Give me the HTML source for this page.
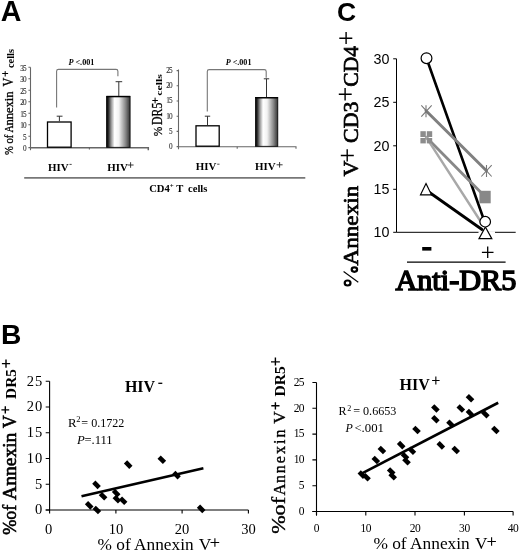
<!DOCTYPE html>
<html><head><meta charset="utf-8">
<style>
html,body{margin:0;padding:0;background:#fff;}
svg{display:block;filter:grayscale(1);}
.s{font-family:"Liberation Serif",serif;}
.ss{font-family:"Liberation Sans",sans-serif;}
</style></head>
<body>
<svg width="520" height="554" viewBox="0 0 520 554">
<defs>
<linearGradient id="bg" x1="0" x2="1" y1="0" y2="0">
<stop offset="0" stop-color="#000"/>
<stop offset="0.07" stop-color="#222"/>
<stop offset="0.2" stop-color="#999"/>
<stop offset="0.34" stop-color="#fff"/>
<stop offset="0.52" stop-color="#f2f2f2"/>
<stop offset="0.8" stop-color="#8a8a8a"/>
<stop offset="1" stop-color="#333"/>
</linearGradient>
</defs>
<rect width="520" height="554" fill="#fff"/>

<!-- ============ PANEL A ============ -->
<text class="ss" x="0.8" y="20.9" font-size="28.6" font-weight="bold">A</text>

<!-- A1 axes -->
<g stroke="#666" stroke-width="1.1" fill="none">
<path d="M30.5 67.3 V150.2"/>
<path d="M30.5 147.8 H148.3 V150.2" stroke-width="1.5"/>
<path d="M28.4 67.3H30.5 M28.4 78.8H30.5 M28.4 90.3H30.5 M28.4 101.8H30.5 M28.4 113.2H30.5 M28.4 124.7H30.5 M28.4 136.2H30.5 M28.4 147.6H30.5"/>
<path d="M89.4 147.6 V149.6"/>
</g>
<g class="s" font-size="7.2" fill="#333" stroke="#333" stroke-width="0.12" text-anchor="end" letter-spacing="-0.7">
<text x="26" y="70.7">35</text><text x="26" y="82.2">30</text><text x="26" y="93.7">25</text>
<text x="26" y="105.2">20</text><text x="26" y="116.6">15</text><text x="26" y="128.1">10</text>
<text x="26" y="139.6">5</text><text x="26" y="151.0">0</text>
</g>
<!-- A1 bars -->
<rect x="47.5" y="122" width="23.6" height="25.2" fill="#fff" stroke="#000" stroke-width="1.3"/>
<rect x="106.6" y="96.3" width="23.5" height="51" fill="url(#bg)" stroke="#000" stroke-width="0.8"/>
<line x1="106.6" y1="96.6" x2="130.1" y2="96.6" stroke="#000" stroke-width="1.4"/>
<g stroke="#333" stroke-width="1" fill="none">
<path d="M59.4 121.3 V116.2 M56.7 116.2 H62.5"/>
<path d="M118.8 96 V81.7 M115.6 81.7 H122.2"/>
</g>
<path d="M56.6 107.5 V71.3 Q56.6 69.4 58.5 69.4 H116 Q117.9 69.4 117.9 71.3 V76.2" stroke="#777" stroke-width="1.1" fill="none"/>
<text class="s" x="68.4" y="64.9" font-size="8.8" font-weight="bold" textLength="26" lengthAdjust="spacingAndGlyphs"><tspan font-style="italic">P</tspan> &lt;.001</text>

<!-- A1 y label -->
<g transform="translate(13.1,155) rotate(-90)" class="s" stroke="#000" stroke-width="0.3">
<text x="0" y="0" font-size="13" textLength="20.3" lengthAdjust="spacingAndGlyphs">% of</text>
<text x="22.5" y="0" font-size="13.5" textLength="7.3" lengthAdjust="spacingAndGlyphs">A</text>
<text x="29.4" y="0" font-size="12.6" textLength="34.2" lengthAdjust="spacingAndGlyphs">nnexin</text>
<text x="68.4" y="0" font-size="13.9" textLength="8.8" lengthAdjust="spacingAndGlyphs">V</text>
<text x="87" y="0.4" font-size="10" font-weight="bold" stroke="none" textLength="19" lengthAdjust="spacingAndGlyphs">cells</text>
</g>
<path d="M2.2 73.5H8.1 M5.2 71.1V76.5" stroke="#000" stroke-width="1"/>

<!-- A1 x labels -->
<g class="s" font-size="10.9" font-weight="bold">
<text x="48" y="170.5">HIV</text>
<text x="107.2" y="170.5">HIV</text>
<text x="195.7" y="170.3">HIV</text>
<text x="255" y="170.3">HIV</text>
</g>
<g stroke="#333" stroke-width="0.9">
<path d="M69.5 164.4 H71.7 M217.2 164.2 H219.5"/>
</g>
<path d="M127.6 165H133.6 M130.6 162.2V167.8 M276.6 164.8H282.6 M279.6 162V167.6" stroke="#222" stroke-width="0.9"/>

<!-- A2 axes -->
<g stroke="#666" stroke-width="1.1" fill="none">
<path d="M178.5 69.5 V149.2 M178.5 146.7 H296 V148.8"/>
<path d="M176.6 70.6H178.5 M176.6 85.8H178.5 M176.6 101H178.5 M176.6 116.2H178.5 M176.6 131.4H178.5 M176.6 146.6H178.5"/>
<path d="M237.2 146.7 V148.7"/>
</g>
<g class="s" font-size="7.2" fill="#333" stroke="#333" stroke-width="0.12" text-anchor="end" letter-spacing="-0.7">
<text x="172" y="72.9">25</text><text x="172" y="88.1">20</text><text x="172" y="103.3">15</text>
<text x="172" y="118.5">10</text><text x="172" y="133.7">5</text><text x="172" y="148.9">0</text>
</g>
<rect x="196" y="125.8" width="23.2" height="20.4" fill="#fff" stroke="#000" stroke-width="1.3"/>
<rect x="255.5" y="97.5" width="22.3" height="48.8" fill="url(#bg)" stroke="#000" stroke-width="0.8"/>
<line x1="255.5" y1="97.8" x2="277.8" y2="97.8" stroke="#000" stroke-width="1.4"/>
<g stroke="#333" stroke-width="1" fill="none">
<path d="M207.5 125.2 V116.2 M204.8 116.2 H210.2"/>
<path d="M266.5 97 V78.8 M263.8 78.8 H269.2"/>
</g>
<path d="M207.3 111.5 V71.5 Q207.3 69.6 209.2 69.6 H264.3 Q266.2 69.6 266.2 71.5 V77.7" stroke="#777" stroke-width="1.1" fill="none"/>
<text class="s" x="225.7" y="64.8" font-size="8.8" font-weight="bold" textLength="25.8" lengthAdjust="spacingAndGlyphs"><tspan font-style="italic">P</tspan> &lt;.001</text>

<!-- A2 y label -->
<g transform="translate(162,136.3) rotate(-90)" class="s">
<text x="0" y="0" font-size="13.5" stroke="#000" stroke-width="0.3" textLength="9.6" lengthAdjust="spacingAndGlyphs">%</text>
<text x="11.4" y="0" font-size="14.5" stroke="#000" stroke-width="0.3" textLength="22.2" lengthAdjust="spacingAndGlyphs">DR5</text>
<text x="40.5" y="0" font-size="9" font-weight="bold" textLength="21.8" lengthAdjust="spacingAndGlyphs">cells</text>
</g>
<path d="M152.3 100.5H157.9 M155.1 97.6V103.4" stroke="#000" stroke-width="1"/>

<!-- CD4 line + label -->
<line x1="24.2" y1="177.8" x2="305.3" y2="177.8" stroke="#777" stroke-width="1.7"/>
<text class="s" x="149.2" y="191.5" font-size="10.6" font-weight="bold">CD4<tspan font-size="7" dy="-4">+</tspan><tspan dy="4"> T</tspan><tspan x="188">cells</tspan></text>

<!-- ============ PANEL C ============ -->
<text class="ss" x="337" y="20.5" font-size="26.5" font-weight="bold">C</text>
<g stroke="#000" stroke-width="1" fill="none">
<path d="M396.5 58.8 V232.3 H515.7"/>
<path d="M393.2 58.8H396.5 M393.2 102.3H396.5 M393.2 145.8H396.5 M393.2 189.3H396.5 M393.2 232.3H396.5"/>
</g>
<g class="ss" font-size="14.3" fill="#000" text-anchor="end">
<text x="389.5" y="63.9">30</text><text x="389.5" y="107.4">25</text><text x="389.5" y="150.9">20</text>
<text x="389.5" y="194.4">15</text><text x="389.5" y="237.4">10</text>
</g>
<!-- lines -->
<line x1="478.5" y1="232.3" x2="495" y2="232.3" stroke="#fff" stroke-width="2"/>
<g fill="none" stroke-linecap="round">
<path d="M426.5 58.2 L484.6 221.7" stroke="#000" stroke-width="2.6"/>
<path d="M426 110.8 L486.5 170.8" stroke="#808080" stroke-width="3"/>
<path d="M426.3 137.3 L485.2 196.7" stroke="#888" stroke-width="2.8"/>
<path d="M426.3 137.3 L481 222" stroke="#a8a8a8" stroke-width="2.4"/>
<path d="M426 190 L482 229.5" stroke="#000" stroke-width="2.8"/>
</g>
<!-- markers -->
<circle cx="426.5" cy="58.2" r="5.4" fill="#fff" stroke="#000" stroke-width="1.2"/>
<g stroke="#777" stroke-width="1.1">
<path d="M421.3 105.4 L431.7 116.7 M431.7 105.4 L421.3 116.7 M426 105.2 V117.2"/>
<path d="M481.3 165.2 L491.7 176.5 M491.7 165.2 L481.3 176.5 M486.5 165 V177"/>
</g>
<g fill="#8c8c8c">
<rect x="420.4" y="131.2" width="5.4" height="5.8"/><rect x="426.8" y="131.2" width="5.4" height="5.8"/>
<rect x="420.4" y="138" width="5.4" height="5.4"/><rect x="426.8" y="138" width="5.4" height="5.4"/>
</g>
<rect x="479.4" y="190.8" width="11.3" height="12.5" fill="#888"/>
<path d="M426 183.5 L431.5 194.8 L420.5 194.8 Z" fill="#fff" stroke="#000" stroke-width="1.2"/>
<path d="M485.4 227 L491.8 238.6 L479 238.6 Z" fill="#fff" stroke="#000" stroke-width="1.2"/>
<circle cx="485.2" cy="221.7" r="5.3" fill="#fff" stroke="#000" stroke-width="1.2"/>
<!-- x labels -->
<rect x="422.2" y="247" width="9.2" height="3.6" fill="#000"/>
<path d="M481.9 252.3H493.5 M487.7 246.5V258" stroke="#000" stroke-width="1.3"/>
<line x1="407" y1="262.2" x2="505.6" y2="262.2" stroke="#000" stroke-width="1.3"/>
<text class="s" x="395.4" y="290" font-size="29.8" stroke="#000" stroke-width="1.5" textLength="121" lengthAdjust="spacingAndGlyphs">Anti-DR5</text>
<!-- C y label -->
<g transform="translate(358.4,287) rotate(-90)" class="s" font-size="22" stroke="#000" stroke-width="0.7">
<text x="21.4" y="0" textLength="79.9" lengthAdjust="spacingAndGlyphs">Annexin</text>
<text x="110.45" y="0">V</text>
<text x="144.1" y="0" textLength="41.3" lengthAdjust="spacingAndGlyphs">CD3</text>
<text x="200.3" y="0" textLength="40.75" lengthAdjust="spacingAndGlyphs">CD4</text>
</g>
<g stroke="#000" stroke-width="2.2" fill="none">
<ellipse cx="347.6" cy="283" rx="2.9" ry="2.5"/>
<ellipse cx="354.4" cy="269.6" rx="2.7" ry="2.2"/>
<path d="M358.3 282.2 L343.6 271.5" stroke-width="1.1"/>
</g>
<g stroke="#000" stroke-width="1.4" fill="none">
<path d="M340.8 155.5H353.8 M347.2 149.2V161.6"/>
<path d="M338.8 94.3H351.7 M345.1 88.1V100.5"/>
<path d="M339.3 38.2H352.3 M346.1 31.9V44"/>
</g>

<!-- ============ PANEL B ============ -->
<text class="ss" x="1" y="344.4" font-size="28.2" font-weight="bold">B</text>

<!-- B1 axes -->
<g stroke="#000" stroke-width="1.1" fill="none">
<path d="M49.6 381.3 V513.6 M45.7 510 H248.4"/>
<path d="M45.7 510.00H49.6 M45.7 484.26H49.6 M45.7 458.52H49.6 M45.7 432.78H49.6 M45.7 407.04H49.6 M45.7 381.30H49.6 "/>
<path d="M115.9 510V513.6 M182.1 510V513.6 M248.4 510V513.6 "/>
</g>
<g class="s" font-size="14.5" fill="#000" text-anchor="end" letter-spacing="1">
<text x="43.3" y="514.30">0</text><text x="43.3" y="488.56">5</text><text x="43.3" y="462.82">10</text><text x="43.3" y="437.08">15</text><text x="43.3" y="411.34">20</text><text x="43.3" y="385.60">25</text>
</g>
<g class="s" font-size="14.5" fill="#000" text-anchor="middle">
<text x="48.5" y="533.6">0</text><text x="115.9" y="533.6">10</text><text x="182.1" y="533.6">20</text><text x="248.4" y="533.6">30</text>
</g>
<text class="s" x="97.5" y="550.4" font-size="17.4" textLength="96.1" lengthAdjust="spacingAndGlyphs">% of Annexin</text>
<text class="s" x="198.8" y="550.4" font-size="17.4">V</text>
<path d="M210.5 542.5H219.2 M214.9 538.2V546.8" stroke="#000" stroke-width="1.1"/>
<!-- B1 y label -->
<g transform="translate(16,540) rotate(-90)" class="s" font-size="18" stroke="#000" stroke-width="0.6">
<text x="5.15" y="0">%of</text>
<text x="40.1" y="0" textLength="67.3" lengthAdjust="spacingAndGlyphs">Annexin</text>
<text x="111.7" y="0">V</text>
<text x="141.1" y="0.3" font-size="15.3" font-weight="bold" stroke="none">DR5</text>
</g>
<g stroke="#000" stroke-width="1.4">
<path d="M1.4 409.9H9.2 M5.3 406.3V413.5"/>
<path d="M1.9 363.6H10.1 M6 359.5V367.7"/>
</g>
<text class="s" x="124.9" y="391.9" font-size="16" font-weight="bold">HIV</text>
<line x1="158.3" y1="383.3" x2="162.3" y2="383.3" stroke="#000" stroke-width="1.3"/>
<g class="s" font-size="12.8">
<text x="68.1" y="426.9">R</text>
<text x="76.3" y="421.9" font-size="8.5">2</text>
<text x="81.3" y="426.9" textLength="43.1" lengthAdjust="spacingAndGlyphs">= 0.1722</text>
<text x="77" y="443.5" font-style="italic">P</text>
<text x="84.4" y="443.5" textLength="28.25" lengthAdjust="spacingAndGlyphs">=.111</text>
</g>
<!-- B1 data -->
<line x1="81.5" y1="496.2" x2="203.4" y2="468.2" stroke="#000" stroke-width="2.6"/>
<g fill="#000">
<g transform="translate(128.2,464.6) rotate(45)"><rect x="-3.8" y="-2.3" width="7.6" height="4.6"/></g>
<g transform="translate(96.5,484.9) rotate(45)"><rect x="-3.8" y="-2.3" width="7.6" height="4.6"/></g>
<g transform="translate(103.1,496.2) rotate(45)"><rect x="-3.8" y="-2.3" width="7.6" height="4.6"/></g>
<g transform="translate(89.2,505.4) rotate(45)"><rect x="-3.8" y="-2.3" width="7.6" height="4.6"/></g>
<g transform="translate(96.9,510) rotate(45)"><rect x="-3.8" y="-2.3" width="7.6" height="4.6"/></g>
<g transform="translate(116.2,493.1) rotate(45)"><rect x="-3.8" y="-2.3" width="7.6" height="4.6"/></g>
<g transform="translate(116.9,499.2) rotate(45)"><rect x="-3.8" y="-2.3" width="7.6" height="4.6"/></g>
<g transform="translate(123.1,500.8) rotate(45)"><rect x="-3.8" y="-2.3" width="7.6" height="4.6"/></g>
<g transform="translate(161.8,459.7) rotate(45)"><rect x="-3.8" y="-2.3" width="7.6" height="4.6"/></g>
<g transform="translate(176.5,475.1) rotate(45)"><rect x="-3.8" y="-2.3" width="7.6" height="4.6"/></g>
<g transform="translate(201.2,508.9) rotate(45)"><rect x="-3.8" y="-2.3" width="7.6" height="4.6"/></g>
</g>

<!-- B2 axes -->
<g stroke="#000" stroke-width="1.1" fill="none">
<path d="M316.5 382.5 V515.4 M312.4 511.5 H513.1"/>
<path d="M312.4 511.50H316.5 M312.4 485.70H316.5 M312.4 459.90H316.5 M312.4 434.10H316.5 M312.4 408.30H316.5 M312.4 382.50H316.5 "/>
<path d="M316.5 511.5V515.4 M365.8 511.5V515.4 M415 511.5V515.4 M464.4 511.5V515.4 M513.1 511.5V515.4 "/>
</g>
<g class="s" font-size="11.5" fill="#000" text-anchor="end" letter-spacing="-0.6">
<text x="304" y="514.80">0</text><text x="304" y="489.00">5</text><text x="304" y="463.20">10</text><text x="304" y="437.40">15</text><text x="304" y="411.60">20</text><text x="304" y="385.80">25</text>
</g>
<g class="s" font-size="11.5" fill="#000" text-anchor="middle" letter-spacing="-0.4">
<text x="316.5" y="532.4">0</text><text x="365.8" y="532.4">10</text><text x="415.0" y="532.4">20</text><text x="464.4" y="532.4">30</text><text x="513.1" y="532.4">40</text>
</g>
<text class="s" x="373.4" y="549.3" font-size="17.2" textLength="96.4" lengthAdjust="spacingAndGlyphs">% of Annexin</text>
<text class="s" x="475.1" y="549.3" font-size="17.2">V</text>
<path d="M487.4 541.5H495.9 M491.6 537.3V545.7" stroke="#000" stroke-width="1.1"/>
<!-- B2 y label -->
<g transform="translate(284.8,540) rotate(-90)" class="s" font-size="18" stroke="#000" stroke-width="0.35">
<text x="6.15" y="0" textLength="36.9" lengthAdjust="spacingAndGlyphs">%of</text>
<text x="44.6" y="0" font-size="17" textLength="12" lengthAdjust="spacingAndGlyphs">A</text>
<text x="56.9" y="0" font-size="16" textLength="53.5" lengthAdjust="spacing">nnexin</text>
<text x="116.3" y="0" font-size="17.4">V</text>
<text x="143.5" y="0.2" font-size="15.5" font-weight="bold" stroke="none">DR5</text>
</g>
<g stroke="#000" stroke-width="1.4">
<path d="M271.3 405.8H279.5 M275.4 402.2V409.5"/>
<path d="M271 361.9H279.9 M275.4 357.4V365.4"/>
</g>
<text class="s" x="399.5" y="389.8" font-size="16" font-weight="bold">HIV</text>
<path d="M432.1 380.5H439.6 M435.85 376.5V384.6" stroke="#000" stroke-width="1.1"/>
<g class="s" font-size="12">
<text x="338.4" y="414.75">R</text>
<text x="347.3" y="410.6" font-size="8">2</text>
<text x="353.15" y="414.75" textLength="43.3" lengthAdjust="spacingAndGlyphs">= 0.6653</text>
<text x="345.6" y="432.25" font-style="italic">P</text>
<text x="354.4" y="432.25" textLength="29.6" lengthAdjust="spacingAndGlyphs">&lt;.001</text>
</g>
<!-- B2 data -->
<line x1="359.6" y1="474.6" x2="498.2" y2="402.8" stroke="#000" stroke-width="2.7"/>
<g fill="#000">
<g transform="translate(416.5,430) rotate(45)"><rect x="-3.8" y="-2.3" width="7.6" height="4.6"/></g>
<g transform="translate(401.2,445.1) rotate(45)"><rect x="-3.8" y="-2.3" width="7.6" height="4.6"/></g>
<g transform="translate(381.9,450) rotate(45)"><rect x="-3.8" y="-2.3" width="7.6" height="4.6"/></g>
<g transform="translate(411.9,450.8) rotate(45)"><rect x="-3.8" y="-2.3" width="7.6" height="4.6"/></g>
<g transform="translate(375.8,460) rotate(45)"><rect x="-3.8" y="-2.3" width="7.6" height="4.6"/></g>
<g transform="translate(405,456.2) rotate(45)"><rect x="-3.8" y="-2.3" width="7.6" height="4.6"/></g>
<g transform="translate(406.5,461.2) rotate(45)"><rect x="-3.8" y="-2.3" width="7.6" height="4.6"/></g>
<g transform="translate(361.9,474.6) rotate(45)"><rect x="-3.8" y="-2.3" width="7.6" height="4.6"/></g>
<g transform="translate(366.5,477.2) rotate(45)"><rect x="-3.8" y="-2.3" width="7.6" height="4.6"/></g>
<g transform="translate(391.2,471.5) rotate(45)"><rect x="-3.8" y="-2.3" width="7.6" height="4.6"/></g>
<g transform="translate(392.7,476.2) rotate(45)"><rect x="-3.8" y="-2.3" width="7.6" height="4.6"/></g>
<g transform="translate(470,398.2) rotate(45)"><rect x="-3.8" y="-2.3" width="7.6" height="4.6"/></g>
<g transform="translate(435.4,408.5) rotate(45)"><rect x="-3.8" y="-2.3" width="7.6" height="4.6"/></g>
<g transform="translate(460.8,408.5) rotate(45)"><rect x="-3.8" y="-2.3" width="7.6" height="4.6"/></g>
<g transform="translate(470,413.1) rotate(45)"><rect x="-3.8" y="-2.3" width="7.6" height="4.6"/></g>
<g transform="translate(485.4,414.2) rotate(45)"><rect x="-3.8" y="-2.3" width="7.6" height="4.6"/></g>
<g transform="translate(435.4,419.2) rotate(45)"><rect x="-3.8" y="-2.3" width="7.6" height="4.6"/></g>
<g transform="translate(450.5,423.8) rotate(45)"><rect x="-3.8" y="-2.3" width="7.6" height="4.6"/></g>
<g transform="translate(495.4,430) rotate(45)"><rect x="-3.8" y="-2.3" width="7.6" height="4.6"/></g>
<g transform="translate(440.8,445.4) rotate(45)"><rect x="-3.8" y="-2.3" width="7.6" height="4.6"/></g>
<g transform="translate(455.7,450) rotate(45)"><rect x="-3.8" y="-2.3" width="7.6" height="4.6"/></g>
</g>
</svg>
</body></html>
